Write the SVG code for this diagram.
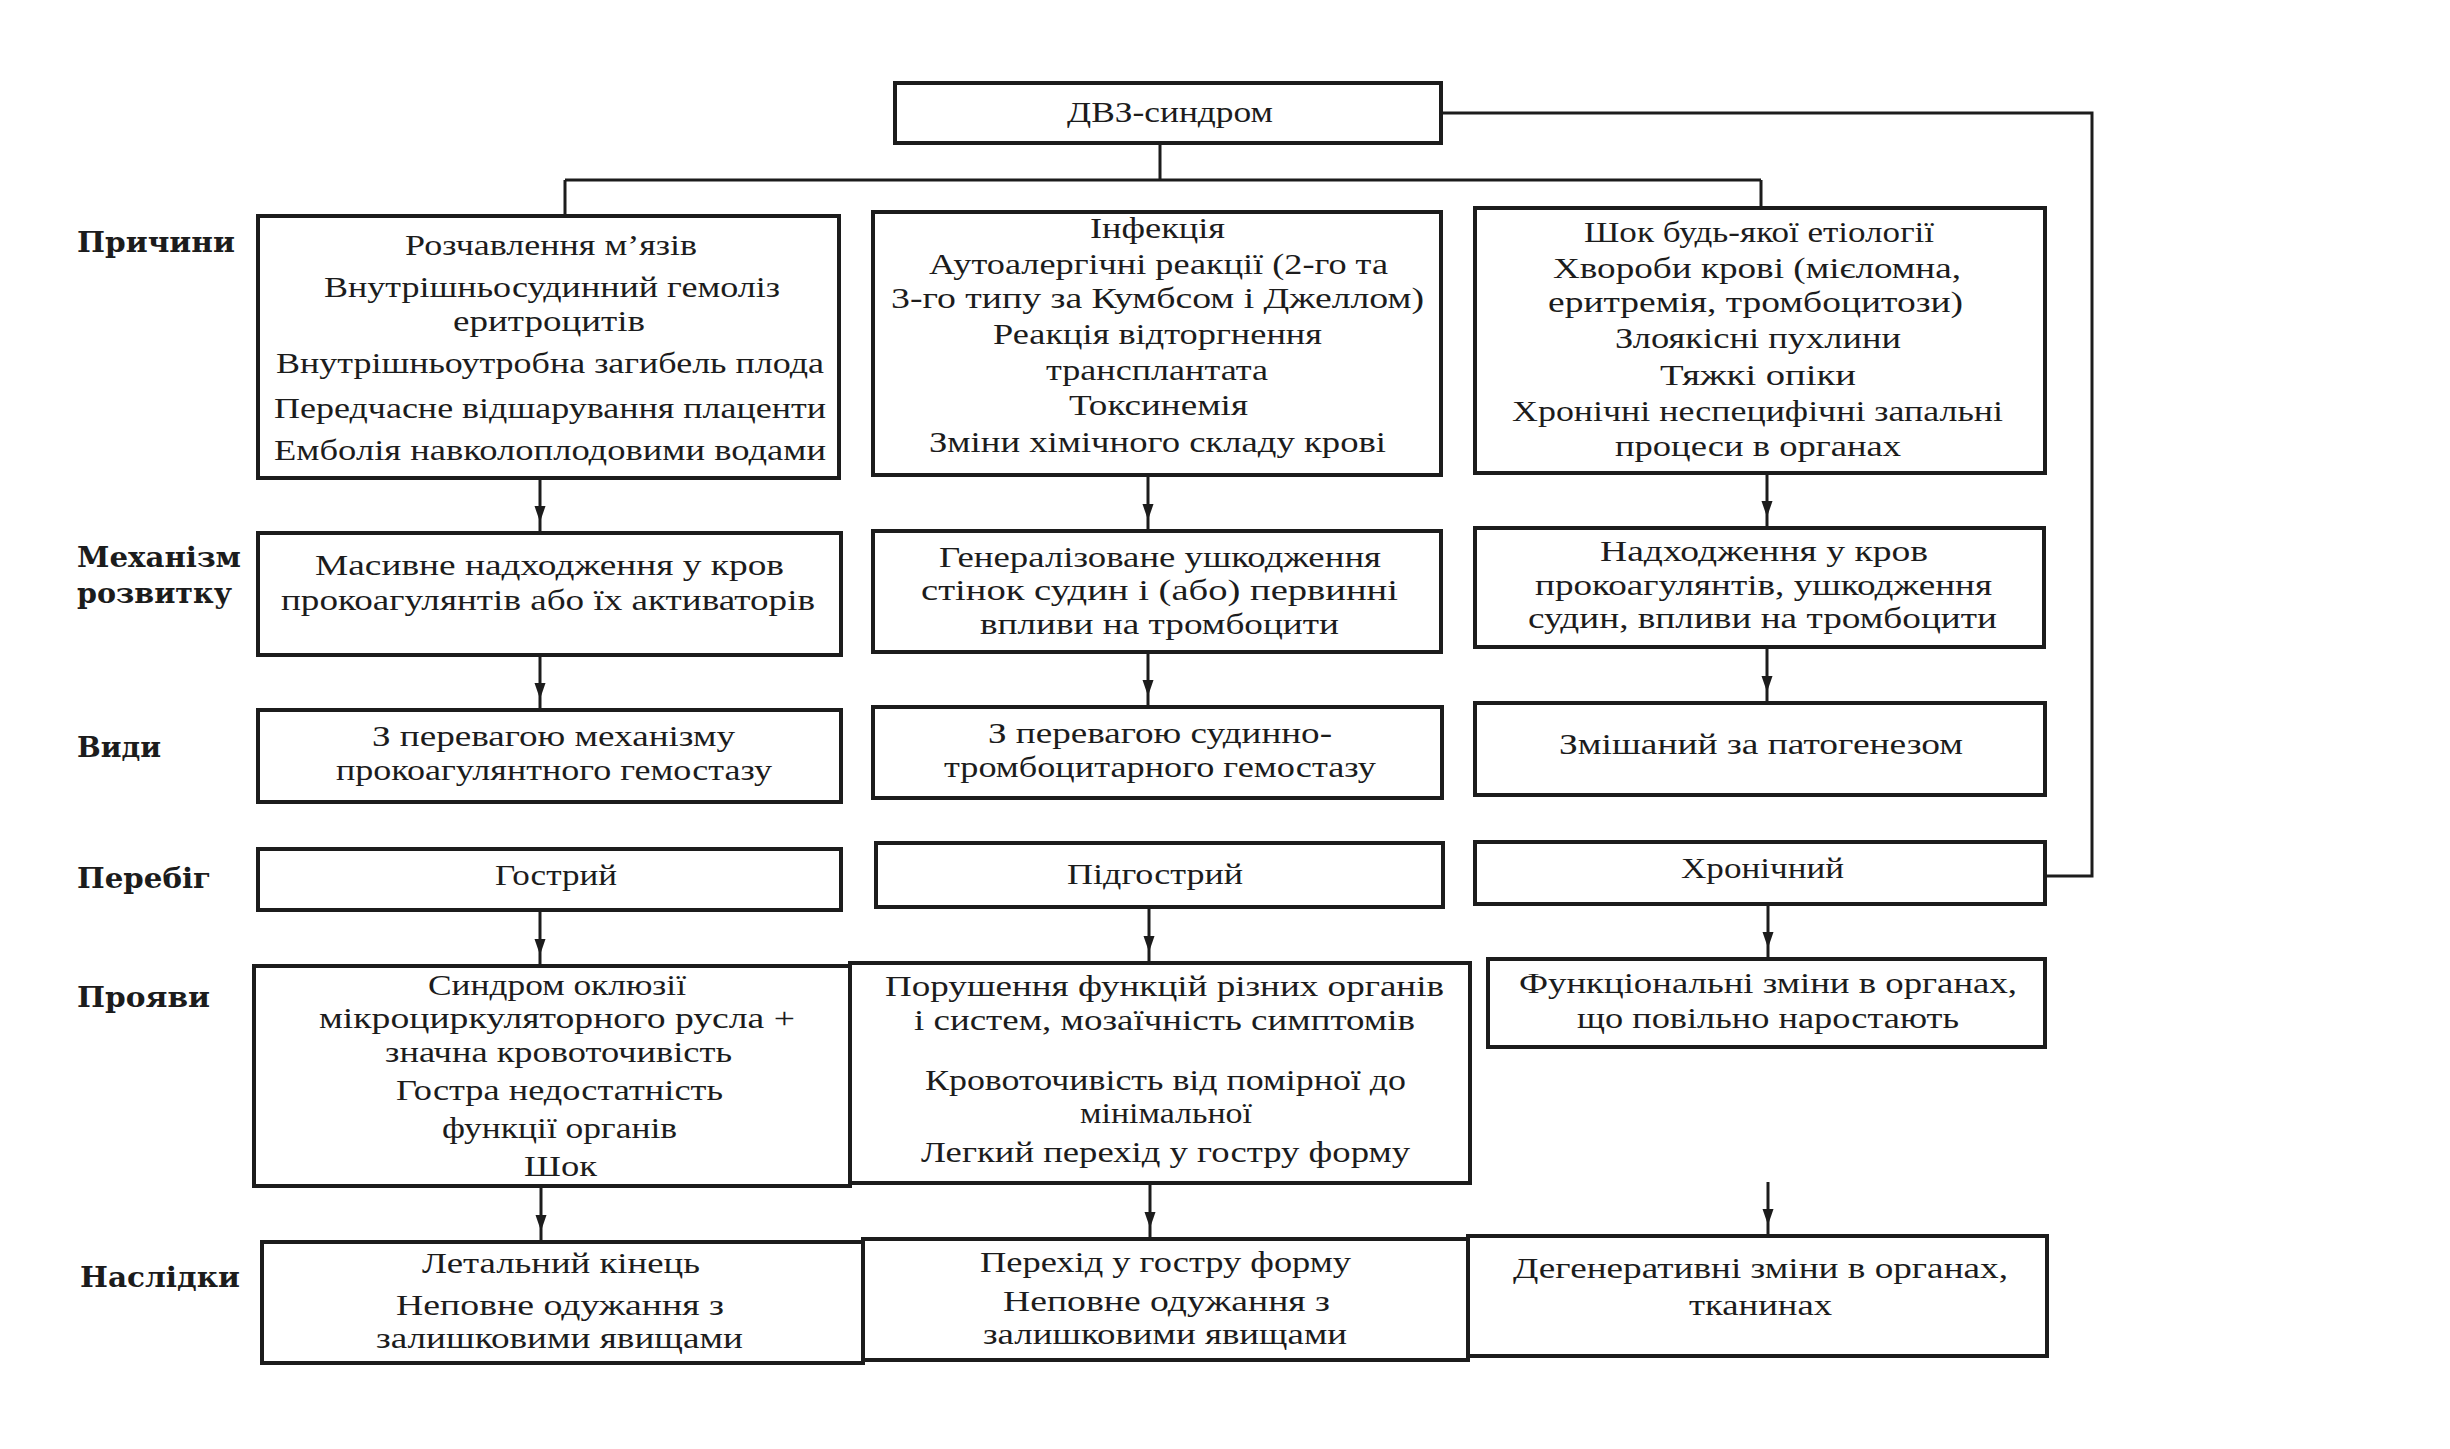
<svg xmlns="http://www.w3.org/2000/svg" width="2450" height="1449" viewBox="0 0 2450 1449">
<defs>
<style>
.box{fill:#fff;stroke:#1c1c1c;stroke-width:4}
.t{font-family:"Liberation Serif",serif;font-size:29px;fill:#1c1c1c}
.lb{font-family:"DejaVu Serif",serif;font-weight:bold;font-size:28px;fill:#1c1c1c}
.ln{fill:none;stroke:#1c1c1c;stroke-width:3}
.ar{marker-end:url(#ah)}
</style>
<marker id="ah" markerUnits="userSpaceOnUse" viewBox="0 0 28 12" markerWidth="28" markerHeight="12" refX="27" refY="6" orient="auto"><path d="M0,0.5 L16,6 L0,11.5 Z" fill="#1c1c1c"/></marker>
</defs>
<rect width="2450" height="1449" fill="#fff"/>

<g id="connectors">
<path class="ln" d="M1160,143 V180 M565,180 H1761 M565,180 V216 M1761,180 V208"/>
<path class="ln" d="M1441,113 H2092 V876 H2045"/>
<path class="ln ar" d="M540,478 V533"/>
<path class="ln ar" d="M540,655 V710"/>
<path class="ln ar" d="M540,910 V966"/>
<path class="ln ar" d="M541,1186 V1242"/>
<path class="ln ar" d="M1148,475 V531"/>
<path class="ln ar" d="M1148,652 V707"/>
<path class="ln ar" d="M1149,907 V963"/>
<path class="ln ar" d="M1150,1183 V1239"/>
<path class="ln ar" d="M1767,473 V528"/>
<path class="ln ar" d="M1767,647 V703"/>
<path class="ln ar" d="M1768,904 V959"/>
<path class="ln ar" d="M1768,1182 V1236"/>
</g>

<g id="row-labels">
<text id="lbl-causes" class="lb" x="77" y="252" textLength="158" lengthAdjust="spacingAndGlyphs">Причини</text>
<g id="lbl-mechanism">
<text class="lb" x="77" y="567" textLength="164" lengthAdjust="spacingAndGlyphs">Механізм</text>
<text class="lb" x="77" y="603" textLength="155" lengthAdjust="spacingAndGlyphs">розвитку</text>
</g>
<text id="lbl-types" class="lb" x="77" y="757" textLength="84" lengthAdjust="spacingAndGlyphs">Види</text>
<text id="lbl-course" class="lb" x="77" y="888" textLength="134" lengthAdjust="spacingAndGlyphs">Перебіг</text>
<text id="lbl-manifest" class="lb" x="77" y="1007" textLength="133" lengthAdjust="spacingAndGlyphs">Прояви</text>
<text id="lbl-outcome" class="lb" x="80" y="1287" textLength="160" lengthAdjust="spacingAndGlyphs">Наслідки</text>
</g>

<g id="dvz">
<rect class="box" x="895" y="83" width="546" height="60"/>
<text class="t" x="1067" y="122" textLength="206" lengthAdjust="spacingAndGlyphs">ДВЗ-синдром</text>
</g>

<g id="causes-1">
<rect class="box" x="258" y="216" width="581" height="262"/>
<text class="t" x="405" y="255" textLength="292" lengthAdjust="spacingAndGlyphs">Розчавлення м’язів</text>
<text class="t" x="324" y="297" textLength="456" lengthAdjust="spacingAndGlyphs">Внутрішньосудинний гемоліз</text>
<text class="t" x="453" y="331" textLength="192" lengthAdjust="spacingAndGlyphs">еритроцитів</text>
<text class="t" x="276" y="373" textLength="548" lengthAdjust="spacingAndGlyphs">Внутрішньоутробна загибель плода</text>
<text class="t" x="274" y="418" textLength="552" lengthAdjust="spacingAndGlyphs">Передчасне відшарування плаценти</text>
<text class="t" x="274" y="460" textLength="552" lengthAdjust="spacingAndGlyphs">Емболія навколоплодовими водами</text>
</g>

<g id="causes-2">
<rect class="box" x="873" y="212" width="568" height="263"/>
<text class="t" x="1090" y="238" textLength="135" lengthAdjust="spacingAndGlyphs">Інфекція</text>
<text class="t" x="929" y="274" textLength="459" lengthAdjust="spacingAndGlyphs">Аутоалергічні реакції (2-го та</text>
<text class="t" x="891" y="308" textLength="533" lengthAdjust="spacingAndGlyphs">3-го типу за Кумбсом і Джеллом)</text>
<text class="t" x="993" y="344" textLength="329" lengthAdjust="spacingAndGlyphs">Реакція відторгнення</text>
<text class="t" x="1046" y="380" textLength="222" lengthAdjust="spacingAndGlyphs">трансплантата</text>
<text class="t" x="1069" y="415" textLength="179" lengthAdjust="spacingAndGlyphs">Токсинемія</text>
<text class="t" x="929" y="452" textLength="457" lengthAdjust="spacingAndGlyphs">Зміни хімічного складу крові</text>
</g>

<g id="causes-3">
<rect class="box" x="1475" y="208" width="570" height="265"/>
<text class="t" x="1584" y="242" textLength="350" lengthAdjust="spacingAndGlyphs">Шок будь-якої етіології</text>
<text class="t" x="1553" y="278" textLength="408" lengthAdjust="spacingAndGlyphs">Хвороби крові (мієломна,</text>
<text class="t" x="1548" y="312" textLength="415" lengthAdjust="spacingAndGlyphs">еритремія, тромбоцитози)</text>
<text class="t" x="1615" y="348" textLength="286" lengthAdjust="spacingAndGlyphs">Злоякісні пухлини</text>
<text class="t" x="1660" y="385" textLength="196" lengthAdjust="spacingAndGlyphs">Тяжкі опіки</text>
<text class="t" x="1512" y="421" textLength="491" lengthAdjust="spacingAndGlyphs">Хронічні неспецифічні запальні</text>
<text class="t" x="1615" y="456" textLength="286" lengthAdjust="spacingAndGlyphs">процеси в органах</text>
</g>

<g id="mech-1">
<rect class="box" x="258" y="533" width="583" height="122"/>
<text class="t" x="315" y="575" textLength="469" lengthAdjust="spacingAndGlyphs">Масивне надходження у кров</text>
<text class="t" x="281" y="610" textLength="534" lengthAdjust="spacingAndGlyphs">прокоагулянтів або їх активаторів</text>
</g>

<g id="mech-2">
<rect class="box" x="873" y="531" width="568" height="121"/>
<text class="t" x="939" y="567" textLength="442" lengthAdjust="spacingAndGlyphs">Генералізоване ушкодження</text>
<text class="t" x="921" y="600" textLength="477" lengthAdjust="spacingAndGlyphs">стінок судин і (або) первинні</text>
<text class="t" x="980" y="634" textLength="359" lengthAdjust="spacingAndGlyphs">впливи на тромбоцити</text>
</g>

<g id="mech-3">
<rect class="box" x="1475" y="528" width="569" height="119"/>
<text class="t" x="1600" y="561" textLength="328" lengthAdjust="spacingAndGlyphs">Надходження у кров</text>
<text class="t" x="1535" y="595" textLength="457" lengthAdjust="spacingAndGlyphs">прокоагулянтів, ушкодження</text>
<text class="t" x="1528" y="628" textLength="469" lengthAdjust="spacingAndGlyphs">судин, впливи на тромбоцити</text>
</g>

<g id="type-1">
<rect class="box" x="258" y="710" width="583" height="92"/>
<text class="t" x="372" y="746" textLength="363" lengthAdjust="spacingAndGlyphs">З перевагою механізму</text>
<text class="t" x="336" y="780" textLength="436" lengthAdjust="spacingAndGlyphs">прокоагулянтного гемостазу</text>
</g>

<g id="type-2">
<rect class="box" x="873" y="707" width="569" height="91"/>
<text class="t" x="988" y="743" textLength="344" lengthAdjust="spacingAndGlyphs">З перевагою судинно-</text>
<text class="t" x="944" y="777" textLength="432" lengthAdjust="spacingAndGlyphs">тромбоцитарного гемостазу</text>
</g>

<g id="type-3">
<rect class="box" x="1475" y="703" width="570" height="92"/>
<text class="t" x="1559" y="754" textLength="404" lengthAdjust="spacingAndGlyphs">Змішаний за патогенезом</text>
</g>

<g id="course-1">
<rect class="box" x="258" y="849" width="583" height="61"/>
<text class="t" x="495" y="885" textLength="122" lengthAdjust="spacingAndGlyphs">Гострий</text>
</g>

<g id="course-2">
<rect class="box" x="876" y="843" width="567" height="64"/>
<text class="t" x="1067" y="884" textLength="176" lengthAdjust="spacingAndGlyphs">Підгострий</text>
</g>

<g id="course-3">
<rect class="box" x="1475" y="842" width="570" height="62"/>
<text class="t" x="1681" y="878" textLength="163" lengthAdjust="spacingAndGlyphs">Хронічний</text>
</g>

<g id="manif-1">
<rect class="box" x="254" y="966" width="596" height="220"/>
<text class="t" x="428" y="995" textLength="258" lengthAdjust="spacingAndGlyphs">Синдром оклюзії</text>
<text class="t" x="319" y="1028" textLength="476" lengthAdjust="spacingAndGlyphs">мікроциркуляторного русла +</text>
<text class="t" x="385" y="1062" textLength="347" lengthAdjust="spacingAndGlyphs">значна кровоточивість</text>
<text class="t" x="396" y="1100" textLength="327" lengthAdjust="spacingAndGlyphs">Гостра недостатність</text>
<text class="t" x="442" y="1138" textLength="235" lengthAdjust="spacingAndGlyphs">функції органів</text>
<text class="t" x="524" y="1176" textLength="73" lengthAdjust="spacingAndGlyphs">Шок</text>
</g>

<g id="manif-2">
<rect class="box" x="850" y="963" width="620" height="220"/>
<text class="t" x="885" y="996" textLength="559" lengthAdjust="spacingAndGlyphs">Порушення функцій різних органів</text>
<text class="t" x="914" y="1030" textLength="501" lengthAdjust="spacingAndGlyphs">і систем, мозаїчність симптомів</text>
<text class="t" x="925" y="1090" textLength="481" lengthAdjust="spacingAndGlyphs">Кровоточивість від помірної до</text>
<text class="t" x="1080" y="1123" textLength="172" lengthAdjust="spacingAndGlyphs">мінімальної</text>
<text class="t" x="921" y="1162" textLength="489" lengthAdjust="spacingAndGlyphs">Легкий перехід у гостру форму</text>
</g>

<g id="manif-3">
<rect class="box" x="1488" y="959" width="557" height="88"/>
<text class="t" x="1519" y="993" textLength="498" lengthAdjust="spacingAndGlyphs">Функціональні зміни в органах,</text>
<text class="t" x="1577" y="1028" textLength="382" lengthAdjust="spacingAndGlyphs">що повільно наростають</text>
</g>

<g id="outcome-1">
<rect class="box" x="262" y="1242" width="601" height="121"/>
<text class="t" x="422" y="1273" textLength="278" lengthAdjust="spacingAndGlyphs">Летальний кінець</text>
<text class="t" x="396" y="1315" textLength="328" lengthAdjust="spacingAndGlyphs">Неповне одужання з</text>
<text class="t" x="376" y="1348" textLength="367" lengthAdjust="spacingAndGlyphs">залишковими явищами</text>
</g>

<g id="outcome-2">
<rect class="box" x="863" y="1239" width="605" height="121"/>
<text class="t" x="980" y="1272" textLength="371" lengthAdjust="spacingAndGlyphs">Перехід у гостру форму</text>
<text class="t" x="1003" y="1311" textLength="327" lengthAdjust="spacingAndGlyphs">Неповне одужання з</text>
<text class="t" x="983" y="1344" textLength="364" lengthAdjust="spacingAndGlyphs">залишковими явищами</text>
</g>

<g id="outcome-3">
<rect class="box" x="1468" y="1236" width="579" height="120"/>
<text class="t" x="1513" y="1278" textLength="495" lengthAdjust="spacingAndGlyphs">Дегенеративні зміни в органах,</text>
<text class="t" x="1689" y="1315" textLength="143" lengthAdjust="spacingAndGlyphs">тканинах</text>
</g>
</svg>
